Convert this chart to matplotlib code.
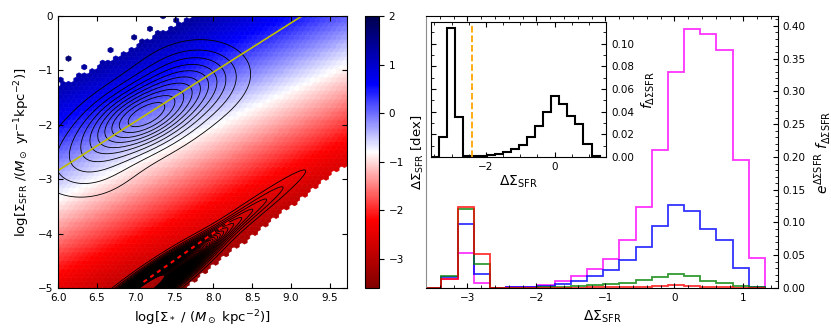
import numpy as np
import matplotlib.pyplot as plt
from matplotlib.ticker import AutoMinorLocator, MultipleLocator

# --- левая панель: главная последовательность и область покрытия ---
ms_slope, ms_x0, ms_y0 = 0.905, 6.0, -2.84          # жёлтая линия
col_slope, col_y0 = 0.66, -2.55                      # опорная линия для цвета (ΔΣSFR = 0)
upper_edge = (6.0, -1.35, 0.75)                      # x0, y0, наклон верхней границы
lower_edge = (7.58, -5.0, 1.1)                       # x0, y0, наклон нижней границы
dot_x = [6.13, 6.03, 6.26, 6.36, 6.58, 6.68, 6.97, 7.17, 7.26, 7.35, 6.45, 6.8, 7.05, 7.5]
dot_y = [-0.75, -1.2, -1.1, -0.95, -0.89, -0.65, -0.38, -0.22, -0.31, -0.03, -1.0, -0.8, -0.45, -0.1]

# компоненты плотности для контуров: x0, y0, sigma_u, sigma_v, наклон, амплитуда
sf_comp = [(7.1, -1.85, 0.6, 0.34, 0.85, 1.0),
           (7.75, -1.1, 0.45, 0.4, 0.8, 0.3),
           (6.35, -2.8, 0.45, 0.4, 0.6, 0.2)]
q_comp = [(7.1, -5.05, 0.55, 0.11, 1.06, 9.0),
          (7.8, -4.3, 1.05, 0.09, 1.06, 0.6),
          (9.9, -5.1, 0.25, 0.15, 1.0, 0.2)]
q_line_x = [7.1, 8.23]
q_line_y = [-4.89, -3.76]

# --- правая панель: гистограммы ---
edges = np.linspace(-3.611, 1.311, 22)
f_all = [0, 0.0178, 0.114, 0.0356, 0.0006, 0.0006, 0.001, 0.0015, 0.003, 0.004, 0.007,
         0.011, 0.0178, 0.0273, 0.040, 0.0534, 0.047, 0.036, 0.029, 0.0119, 0.0012]
h_magenta = [0, 0.013, 0.053, 0.0074, 0.0005, 0.001, 0.002, 0.004, 0.0105, 0.0177, 0.0295,
             0.044, 0.073, 0.123, 0.210, 0.330, 0.396, 0.388, 0.363, 0.195, 0.046]
h_blue = [0, 0.0166, 0.097, 0.022, 0.0005, 0.0015, 0.002, 0.003, 0.0065, 0.011, 0.0177,
          0.028, 0.042, 0.063, 0.094, 0.126, 0.117, 0.090, 0.074, 0.030, 0.002]
h_green = [0, 0.019, 0.120, 0.036, 0.0003, 0.0004, 0.0006, 0.001, 0.002, 0.003, 0.005,
           0.0057, 0.008, 0.012, 0.017, 0.022, 0.018, 0.011, 0.008, 0.0026, 0.001]
h_red = [0, 0.013, 0.124, 0.052, 0.0002, 0.0002, 0.0003, 0.0004, 0.0005, 0.0007, 0.001,
         0.0012, 0.0015, 0.002, 0.003, 0.004, 0.0035, 0.002, 0.0012, 0.0005, 0.0002]
cut_value = -2.41

plt.rcParams['font.size'] = 8
plt.rcParams['xtick.labelsize'] = 7.5
plt.rcParams['ytick.labelsize'] = 7.5

fig = plt.figure(figsize=(8.31, 3.32), dpi=100)
ax1 = fig.add_axes([0.0698, 0.1325, 0.3478, 0.819])
cax = fig.add_axes([0.4392, 0.1325, 0.0169, 0.819])
ax2 = fig.add_axes([0.5126, 0.1325, 0.4236, 0.819])
axin = fig.add_axes([0.5187, 0.527, 0.2106, 0.4066])

# карта ΔΣSFR в шестиугольниках
gx, gy = np.meshgrid(np.arange(6.0, 9.72, 0.015), np.arange(-5.0, 0.001, 0.015))
gx, gy = gx.ravel(), gy.ravel()
inside = (gy < upper_edge[1] + upper_edge[2] * (gx - upper_edge[0])) & \
         (gy > lower_edge[1] + lower_edge[2] * (gx - lower_edge[0]))
px = np.concatenate([gx[inside], dot_x])
py = np.concatenate([gy[inside], dot_y])
delta = py - (col_y0 + col_slope * (px - 6.0))
hb = ax1.hexbin(px, py, C=delta, gridsize=(55, 32), extent=(6.0, 9.72, -5.0, 0.0),
                cmap='seismic_r', vmin=-3.6, vmax=2, edgecolors='face', linewidths=0.4)

# контуры плотности
cx, cy = np.meshgrid(np.linspace(6.0, 9.7, 400), np.linspace(-5.0, 0.0, 400))
dens = np.zeros_like(cx)
for x0, y0, su, sv, sl, amp in sf_comp + q_comp:
    th = np.arctan(sl)
    u = (cx - x0) * np.cos(th) + (cy - y0) * np.sin(th)
    v = -(cx - x0) * np.sin(th) + (cy - y0) * np.cos(th)
    dens += amp * np.exp(-0.5 * (u / su) ** 2 - 0.5 * (v / sv) ** 2)
ax1.contour(cx, cy, dens, levels=np.arange(1, 80) * 0.095, colors='k', linewidths=0.6)
ax1.plot(q_line_x, q_line_y, 'r--', lw=1.5, dashes=(2, 2))
xl = np.array([6.0, 9.7])
ax1.plot(xl, ms_y0 + ms_slope * (xl - ms_x0), color='y', lw=1.2)

ax1.set_xlim(6.0, 9.72)
ax1.set_ylim(-5, 0)
ax1.xaxis.set_major_locator(MultipleLocator(0.5))
ax1.yaxis.set_major_locator(MultipleLocator(1))
ax1.tick_params(direction='in', top=True, right=True)
ax1.set_xlabel(r'log[$\Sigma_*$ / ($M_\odot$ kpc$^{-2}$)]', fontsize=9.5)
ax1.set_ylabel(r'log[$\Sigma_{\rm SFR}$ /($M_\odot$ yr$^{-1}$kpc$^{-2}$)]', fontsize=9.5)

cb = fig.colorbar(hb, cax=cax, ticks=[2, 1, 0, -1, -2, -3])
cb.set_label(r'$\Delta\Sigma_{\rm SFR}$ [dex]', fontsize=9.5)

# основная панель гистограмм
for h, c in [(h_magenta, 'magenta'), (h_blue, 'b'), (h_green, 'g'), (h_red, 'r')]:
    ax2.stairs(h, edges, color=c, lw=1.3, alpha=0.8)
ax2.set_xlim(-3.6, 1.5)
ax2.set_ylim(0, 0.415)
ax2.xaxis.set_major_locator(MultipleLocator(1))
ax2.xaxis.set_minor_locator(AutoMinorLocator(5))
ax2.yaxis.set_major_locator(MultipleLocator(0.05))
ax2.yaxis.set_minor_locator(AutoMinorLocator(5))
ax2.tick_params(which='both', direction='in', top=True, left=False, right=True,
                labelleft=False, labelright=True)
ax2.yaxis.set_label_position('right')
ax2.spines['left'].set_color('0.55')
ax2.set_xlabel(r'$\Delta\Sigma_{\rm SFR}$', fontsize=10)
ax2.set_ylabel(r'$e^{\Delta\Sigma{\rm SFR}}\ f_{\Delta\Sigma{\rm SFR}}$', fontsize=10)

# вставка
axin.stairs(f_all, edges, color='k', lw=1.5)
axin.axvline(cut_value, color='orange', ls='--', lw=1.3)
axin.set_xlim(-3.6, 1.5)
axin.set_ylim(0, 0.119)
axin.xaxis.set_major_locator(MultipleLocator(2))
axin.xaxis.set_minor_locator(AutoMinorLocator(4))
axin.yaxis.set_major_locator(MultipleLocator(0.02))
axin.yaxis.set_minor_locator(AutoMinorLocator(2))
axin.tick_params(which='both', direction='in', top=True, left=True, right=True,
                 labelleft=False, labelright=True)
axin.yaxis.set_label_position('right')
axin.set_xlabel(r'$\Delta\Sigma_{\rm SFR}$', fontsize=10, labelpad=1)
axin.set_ylabel(r'$f_{\Delta\Sigma{\rm SFR}}$', fontsize=10)

fig.savefig('out.png', dpi=100)
